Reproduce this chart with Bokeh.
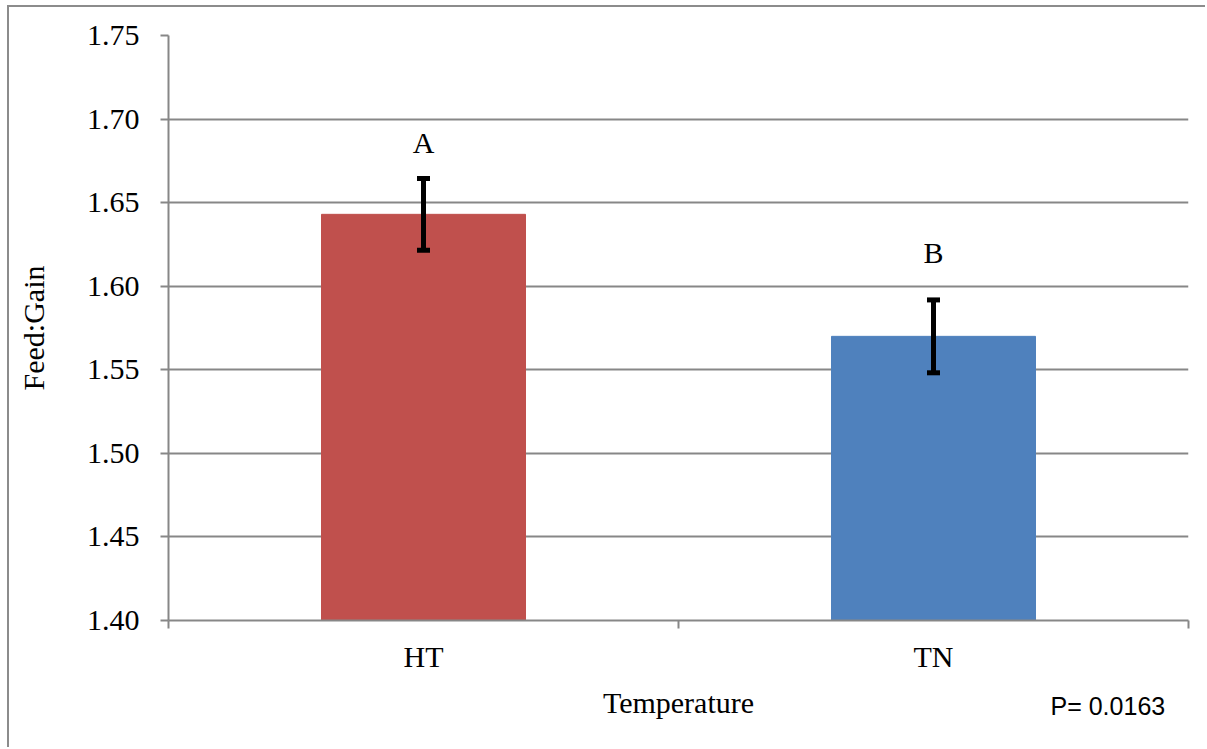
from bokeh.plotting import figure
from bokeh.models import (ColumnDataSource, FixedTicker, Whisker, TeeHead, Label,
                          LabelSet, Range1d)
from bokeh.embed import file_html
from bokeh.resources import INLINE

# ---- data ----
categories = ["HT", "TN"]
means = [1.643, 1.570]
errors = [0.0215, 0.0218]
colors = ["#C0504D", "#4F81BD"]
letters = ["A", "B"]
letter_y = [1.680, 1.614]
y_ticks = [1.40, 1.45, 1.50, 1.55, 1.60, 1.65, 1.70, 1.75]
p_value_text = "P= 0.0163"

xpos = [i + 0.5 for i in range(len(categories))]
src = ColumnDataSource(dict(
    x=xpos, top=means, color=colors,
    upper=[m + e for m, e in zip(means, errors)],
    lower=[m - e for m, e in zip(means, errors)],
    letter=letters, ly=letter_y,
))

SERIF = "Liberation Serif"
GRAY = "#878787"

p = figure(width=1198, height=742, output_backend="svg", toolbar_location=None,
           x_range=Range1d(0, len(categories)), y_range=Range1d(y_ticks[0], y_ticks[-1]),
           min_border_left=159, min_border_top=28, min_border_right=19,
           min_border_bottom=129)
p.styles = {"margin-left": "7px", "margin-top": "5px",
            "border-left": "2px solid #8c8c8c", "border-top": "2px solid #8c8c8c"}
p.outline_line_color = None
p.background_fill_color = "white"
p.border_fill_color = "white"

p.vbar(x="x", top="top", bottom=y_ticks[0], width=0.4, color="color", source=src)

w = Whisker(base="x", upper="upper", lower="lower", source=src, level="overlay",
            line_color="black", line_width=5,
            upper_head=TeeHead(size=13, line_width=5, line_color="black"),
            lower_head=TeeHead(size=13, line_width=5, line_color="black"))
p.add_layout(w)

p.add_layout(LabelSet(x="x", y="ly", text="letter", source=src,
                      text_align="center", text_baseline="alphabetic",
                      text_font=SERIF, text_font_size="30px", text_color="black"))

# grid
p.xgrid.visible = False
p.ygrid.ticker = FixedTicker(ticks=y_ticks)
p.ygrid.grid_line_color = GRAY
p.ygrid.grid_line_width = 2

# y axis
p.yaxis.ticker = FixedTicker(ticks=y_ticks)
p.yaxis.major_label_overrides = {t: f"{t:.2f}" for t in y_ticks}
p.yaxis.axis_line_color = GRAY
p.yaxis.axis_line_width = 2
p.yaxis.major_tick_line_color = GRAY
p.yaxis.major_tick_line_width = 2
p.yaxis.major_tick_in = 0
p.yaxis.major_tick_out = 8
p.yaxis.minor_tick_line_color = None
p.yaxis.major_label_standoff = 21
p.yaxis.major_label_text_font = SERIF
p.yaxis.major_label_text_font_size = "30px"
p.yaxis.major_label_text_color = "black"
p.yaxis.axis_label = "Feed:Gain"
p.yaxis.axis_label_text_font = SERIF
p.yaxis.axis_label_text_font_size = "30px"
p.yaxis.axis_label_text_font_style = "normal"
p.yaxis.axis_label_text_color = "black"
p.yaxis.axis_label_standoff = 34

# x axis
p.xaxis.ticker = FixedTicker(ticks=xpos, minor_ticks=list(range(len(categories) + 1)))
p.xaxis.major_label_overrides = {x: c for x, c in zip(xpos, categories)}
p.xaxis.axis_line_color = GRAY
p.xaxis.axis_line_width = 2
p.xaxis.major_tick_line_color = None
p.xaxis.major_tick_in = 0
p.xaxis.major_tick_out = 0
p.xaxis.minor_tick_line_color = GRAY
p.xaxis.minor_tick_line_width = 2
p.xaxis.minor_tick_in = 0
p.xaxis.minor_tick_out = 8
p.xaxis.major_label_standoff = 11
p.xaxis.major_label_text_font = SERIF
p.xaxis.major_label_text_font_size = "30px"
p.xaxis.major_label_text_color = "black"
p.xaxis.axis_label = "Temperature"
p.xaxis.axis_label_text_font = SERIF
p.xaxis.axis_label_text_font_size = "30px"
p.xaxis.axis_label_text_font_style = "normal"
p.xaxis.axis_label_text_color = "black"
p.xaxis.axis_label_standoff = 10

p.add_layout(Label(x=882, y=44, x_units="screen", y_units="screen",
                   text=p_value_text, text_font="Liberation Sans",
                   text_font_size="25px", text_color="black",
                   text_baseline="alphabetic"), "below")

open("out.html", "w").write(file_html(p, INLINE))
